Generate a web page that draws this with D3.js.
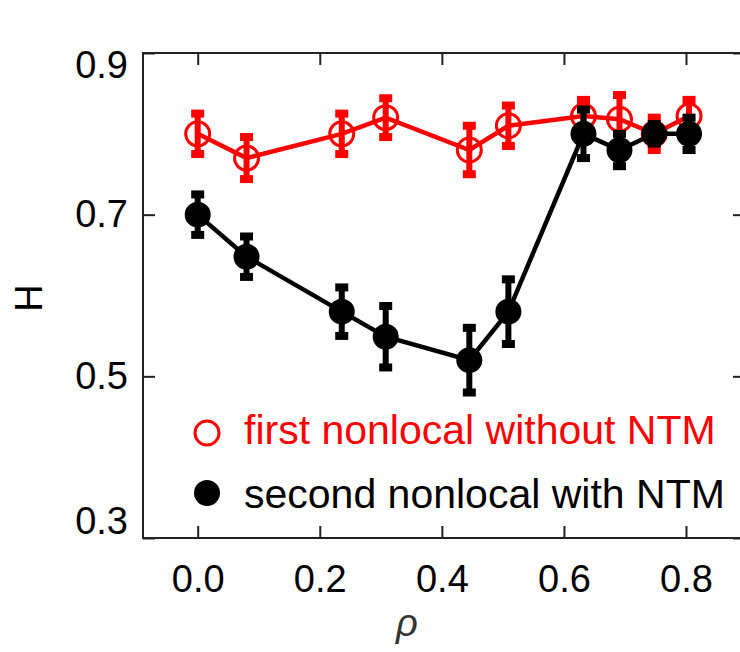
<!DOCTYPE html>
<html>
<head>
<meta charset="utf-8">
<script src="https://cdn.jsdelivr.net/npm/d3@7"></script>
<style>
  html, body { margin: 0; padding: 0; background: #fff; }
  svg { display: block; }
  text { font-family: "Liberation Sans", Arial, sans-serif; }
</style>
</head>
<body>
<svg id="chart" width="740" height="652"></svg>
<script>
// ---- data ----
const rho = [0.0, 0.08, 0.236, 0.308, 0.445, 0.509, 0.632, 0.691, 0.748, 0.805];
const firstH = [0.80, 0.77, 0.80, 0.82, 0.78, 0.81, 0.822, 0.818, 0.80, 0.822];
const firstErr = [0.025, 0.026, 0.025, 0.024, 0.03, 0.025, 0.02, 0.03, 0.02, 0.02];
const secondH = [0.70, 0.648, 0.58, 0.549, 0.52, 0.58, 0.80, 0.78, 0.80, 0.80];
const secondErr = [0.025, 0.025, 0.03, 0.038, 0.04, 0.04, 0.03, 0.02, 0.012, 0.02];
const xTicks = [0.0, 0.2, 0.4, 0.6, 0.8];
const yTicks = [0.3, 0.5, 0.7, 0.9];
const legendLabels = ["first nonlocal without NTM", "second nonlocal with NTM"];
const xLabel = "\u03C1";
const yLabel = "H";

// ---- layout ----
const plotL = 143, plotR = 745, plotT = 53, plotB = 538;
const svg = d3.select("#chart");

const x = d3.scaleLinear().domain([0, 0.8]).range([197.7, 686]);
const y = d3.scaleLinear().domain([0.3, 0.9]).range([plotB, plotT]);

const axisColor = "#222";

// frame
svg.append("rect")
  .attr("x", plotL).attr("y", plotT)
  .attr("width", plotR - plotL).attr("height", plotB - plotT)
  .attr("fill", "none").attr("stroke", axisColor).attr("stroke-width", 2);

// bottom axis
const gx = svg.append("g").attr("transform", `translate(0,${plotB})`)
  .call(d3.axisBottom(x).tickValues(xTicks).tickFormat(d3.format(".1f"))
    .tickSizeInner(-12).tickSizeOuter(0).tickPadding(27));
gx.select(".domain").remove();
gx.selectAll("line").attr("stroke", axisColor).attr("stroke-width", 2);
gx.selectAll("text").attr("font-size", 38).attr("fill", "#000")
  .attr("font-family", "'Liberation Sans', Arial, sans-serif");

// top axis ticks
const gxt = svg.append("g").attr("transform", `translate(0,${plotT})`)
  .call(d3.axisTop(x).tickValues(xTicks).tickFormat("").tickSizeInner(-12).tickSizeOuter(0));
gxt.select(".domain").remove();
gxt.selectAll("line").attr("stroke", axisColor).attr("stroke-width", 2);

// left axis
const gy = svg.append("g").attr("transform", `translate(${plotL},0)`)
  .call(d3.axisLeft(y).tickValues(yTicks).tickFormat(d3.format(".1f"))
    .tickSizeInner(-12).tickSizeOuter(0).tickPadding(15));
gy.select(".domain").remove();
gy.selectAll("line").attr("stroke", axisColor).attr("stroke-width", 2);
gy.selectAll("text").attr("font-size", 38).attr("fill", "#000")
  .attr("font-family", "'Liberation Sans', Arial, sans-serif")
  .attr("transform", d => d === 0.9 ? "translate(0,12)" : (d === 0.3 ? "translate(0,-17)" : null));

// right axis ticks
const gyr = svg.append("g").attr("transform", `translate(${plotR},0)`)
  .call(d3.axisRight(y).tickValues(yTicks).tickFormat("").tickSizeInner(-12).tickSizeOuter(0));
gyr.select(".domain").remove();
gyr.selectAll("line").attr("stroke", axisColor).attr("stroke-width", 2);

// axis labels
svg.append("text").text(yLabel)
  .attr("transform", "translate(42,298) rotate(-90)")
  .attr("text-anchor", "middle").attr("font-size", 38).attr("fill", "#000");
svg.append("text").text(xLabel)
  .attr("x", 407).attr("y", 636)
  .attr("text-anchor", "middle").attr("font-size", 38).attr("font-style", "italic").attr("fill", "#333");

// series
function drawSeries(vals, errs, color, filled) {
  const pts = rho.map((r, i) => ({ r, v: vals[i], e: errs[i] }));
  const g = svg.append("g");
  g.append("path").datum(pts)
    .attr("fill", "none").attr("stroke", color).attr("stroke-width", 4.5)
    .attr("d", d3.line().x(d => x(d.r)).y(d => y(d.v)));
  const eb = g.selectAll(".eb").data(pts).enter().append("g");
  eb.append("rect")
    .attr("x", d => x(d.r) - 3).attr("width", 6)
    .attr("y", d => y(d.v + d.e)).attr("height", d => y(d.v - d.e) - y(d.v + d.e))
    .attr("fill", color);
  eb.append("rect")
    .attr("x", d => x(d.r) - 6.5).attr("width", 13)
    .attr("y", d => y(d.v + d.e) - 4).attr("height", 8).attr("fill", color);
  eb.append("rect")
    .attr("x", d => x(d.r) - 6.5).attr("width", 13)
    .attr("y", d => y(d.v - d.e) - 4).attr("height", 8).attr("fill", color);
  g.selectAll("circle").data(pts).enter().append("circle")
    .attr("cx", d => x(d.r)).attr("cy", d => y(d.v))
    .attr("r", filled ? 13 : 12)
    .attr("fill", filled ? color : "none")
    .attr("stroke", color).attr("stroke-width", filled ? 0 : 3);
}
drawSeries(firstH, firstErr, "#ff0000", false);
drawSeries(secondH, secondErr, "#000000", true);

// legend
const lg = svg.append("g");
lg.append("circle").attr("cx", 207).attr("cy", 433).attr("r", 12)
  .attr("fill", "none").attr("stroke", "#ff0000").attr("stroke-width", 3);
lg.append("text").text(legendLabels[0]).attr("x", 244).attr("y", 444)
  .attr("font-size", 41).attr("fill", "#ff0000");
lg.append("circle").attr("cx", 207).attr("cy", 493).attr("r", 13).attr("fill", "#000");
lg.append("text").text(legendLabels[1]).attr("x", 244).attr("y", 508)
  .attr("font-size", 41).attr("fill", "#000");
</script>
</body>
</html>
